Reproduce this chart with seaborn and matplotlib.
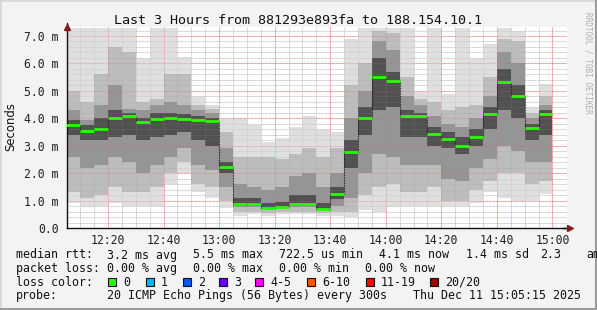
import numpy as np
import pandas as pd
import matplotlib
matplotlib.use("Agg")
import matplotlib.pyplot as plt
import seaborn as sns
from matplotlib.lines import Line2D
from matplotlib.patches import Rectangle

# ---------------- data (ms) ----------------
# column start, minutes after 12:00 (5-minute steps)
col_start = [5, 10, 15, 20, 25, 30, 35, 40, 45, 50, 55, 60, 65, 70, 75, 80, 85, 90,
             95, 100, 105, 110, 115, 120, 125, 130, 135, 140, 145, 150, 155, 160, 165, 170, 175]
ping_min = [0.9, 0.78, 0.8, 0.9, 0.8, 0.8, 0.75, 1.6, 2.0, 1.3, 1.1, 0.73, 0.45, 0.5, 0.45, 0.5, 0.5, 0.5,
            0.45, 0.45, 0.4, 0.65, 0.6, 0.75, 0.8, 0.8, 0.8, 0.75, 0.8, 0.9, 1.3, 1.1, 1.0, 0.95, 1.25]
ping_p10 = [1.3, 1.1, 1.2, 1.5, 1.3, 1.3, 1.5, 2.0, 2.4, 1.6, 1.5, 1.0, 0.6, 0.6, 0.55, 0.6, 0.6, 0.6,
            0.55, 0.6, 0.6, 1.2, 1.5, 1.6, 1.3, 1.3, 1.5, 1.0, 1.0, 1.4, 1.7, 2.0, 2.0, 1.6, 1.7]
ping_p25 = [2.6, 2.2, 2.3, 2.6, 2.4, 2.0, 2.3, 2.6, 2.9, 2.3, 2.1, 1.5, 0.75, 0.75, 0.65, 0.68, 0.75, 0.75,
            0.62, 0.8, 1.1, 2.0, 2.7, 2.6, 2.3, 2.3, 2.3, 1.8, 1.7, 2.2, 2.5, 3.0, 2.8, 2.4, 2.4]
ping_p40 = [3.4, 3.2, 3.2, 3.3, 3.4, 3.2, 3.3, 3.4, 3.5, 3.2, 3.0, 2.0, 0.82, 0.82, 0.7, 0.73, 0.82, 0.82,
            0.67, 1.05, 2.2, 3.4, 4.3, 4.4, 3.3, 3.3, 3.0, 2.9, 2.7, 3.0, 3.6, 4.3, 4.0, 3.2, 3.4]
median = [3.75, 3.54, 3.61, 4.01, 4.08, 3.86, 3.97, 4.01, 3.97, 3.94, 3.9, 2.22, 0.87, 0.87, 0.73, 0.77, 0.87, 0.87,
          0.7, 1.24, 2.77, 4.01, 5.5, 5.36, 4.08, 4.08, 3.43, 3.24, 2.99, 3.32, 4.16, 5.32, 4.81, 3.65, 4.16]
ping_p60 = [3.95, 3.75, 4.0, 4.3, 4.2, 4.0, 4.2, 4.2, 4.15, 4.1, 4.0, 2.4, 1.1, 1.1, 0.9, 0.95, 1.2, 1.2,
            0.9, 1.5, 3.2, 4.4, 6.2, 5.7, 4.3, 4.2, 3.7, 3.5, 3.3, 3.6, 4.4, 5.8, 5.2, 3.8, 4.3]
ping_p75 = [4.3, 3.95, 4.5, 5.2, 4.35, 4.3, 4.5, 4.6, 4.5, 4.3, 4.2, 2.9, 1.6, 1.5, 1.4, 1.5, 1.9, 2.0,
            1.5, 2.0, 4.0, 5.0, 6.8, 6.5, 4.8, 4.5, 4.1, 3.8, 3.7, 4.0, 4.8, 6.4, 6.0, 4.0, 4.5]
ping_p90 = [5.0, 4.6, 5.6, 6.6, 6.4, 4.6, 4.7, 5.6, 5.6, 4.5, 4.35, 3.5, 2.6, 2.6, 2.6, 2.5, 2.7, 2.9,
            2.6, 2.9, 5.2, 6.0, 7.2, 7.1, 5.5, 4.7, 4.6, 4.3, 4.4, 4.5, 5.5, 6.9, 6.8, 4.2, 4.8]
ping_max = [7.3, 7.3, 7.3, 7.3, 7.3, 6.2, 7.3, 7.3, 6.25, 4.8, 4.5, 4.0, 3.96, 3.75, 3.15, 3.27, 3.7, 4.1,
            3.6, 3.5, 6.9, 7.3, 7.3, 7.3, 7.3, 4.95, 7.3, 4.9, 7.3, 6.2, 6.7, 7.3, 7.2, 4.42, 5.25]

x_tick_pos = [20, 40, 60, 80, 100, 120, 140, 160, 180]
x_tick_labels = ["12:20", "12:40", "13:00", "13:20", "13:40", "14:00", "14:20", "14:40", "15:00"]
y_tick_pos = [0, 1, 2, 3, 4, 5, 6, 7]
y_tick_labels = ["0.0", "1.0 m", "2.0 m", "3.0 m", "4.0 m", "5.0 m", "6.0 m", "7.0 m"]

loss_labels = ["0", "1", "2", "3", "4-5", "6-10", "11-19", "20/20"]
loss_colors = ["#26ff00", "#00b8ff", "#0059ff", "#6a00ff", "#ff00ff", "#ff5500", "#ff0000", "#a10000"]

STEP = 5

df = pd.DataFrame({"start": col_start, "min": ping_min, "p10": ping_p10, "p25": ping_p25,
                   "p40": ping_p40, "median": median, "p60": ping_p60, "p75": ping_p75,
                   "p90": ping_p90, "max": ping_max})

# ---------------- figure ----------------
sns.set_style("white")
plt.rcParams["font.family"] = ["DejaVu Sans Mono", "DejaVu Sans"]
W, H = 597, 310
fig = plt.figure(figsize=(W / 100, H / 100), dpi=100, facecolor="#f3f3f3")
ax = fig.add_axes([67 / W, 1 - 228 / H, 500 / W, 201 / H])
ax.set_facecolor("white")

x0, x1 = 5.25, 185.25
ax.set_xlim(x0, x1)
ax.set_ylim(0, 201 / 27.43)

dot = (0, (0.72, 0.72))
minor_y = [v for v in np.arange(0.2, 7.4, 0.2) if abs(v - round(v)) > 1e-6]
minor_x = [v for v in np.arange(10, 185, 5) if v % 20 != 0]

# grid under smoke
for v in minor_y:
    ax.axhline(v, color="#c8c8c8", lw=0.7, ls=dot, zorder=0.5)
for v in minor_x:
    ax.axvline(v, color="#c8c8c8", lw=0.7, ls=dot, zorder=0.5)
for v in y_tick_pos[1:]:
    ax.axhline(v, color="#f08a8a", lw=0.7, ls=dot, zorder=0.5)
for v in x_tick_pos:
    ax.axvline(v, color="#f08a8a", lw=0.7, ls=dot, zorder=0.5)

# smoke bands (outer -> inner)
bands = [("min", "max", "#dddddd"), ("p10", "p90", "#bababa"),
         ("p25", "p75", "#929292"), ("p40", "p60", "#4c4c4c")]
for lo, hi, c in bands:
    ax.bar(df["start"], df[hi] - df[lo], bottom=df[lo], width=STEP, align="edge",
           color=c, linewidth=0, alpha=0.92, zorder=1)

# grid on top of smoke (faint)
for v in minor_y:
    ax.axhline(v, color="#9a9a9a", lw=0.5, ls=dot, alpha=0.35, zorder=1.5)
for v in minor_x:
    ax.axvline(v, color="#9a9a9a", lw=0.5, ls=dot, alpha=0.35, zorder=1.5)
for v in y_tick_pos[1:]:
    ax.axhline(v, color="#e06060", lw=0.6, ls=dot, alpha=0.5, zorder=1.5)
for v in x_tick_pos:
    ax.axvline(v, color="#e06060", lw=0.6, ls=dot, alpha=0.5, zorder=1.5)

# median step connectors
step_df = pd.DataFrame({"t": list(df["start"]) + [df["start"].iloc[-1] + STEP],
                        "m": list(df["median"]) + [df["median"].iloc[-1]]})
sns.lineplot(data=step_df, x="t", y="m", drawstyle="steps-post", color="#111111",
             lw=0.8, ls=dot, estimator=None, ax=ax, zorder=2)
ax.hlines(df["median"], df["start"], df["start"] + STEP, color=loss_colors[0], lw=2.0, zorder=3)

# axes cosmetics
for s in ["top", "right"]:
    ax.spines[s].set_visible(False)
for s in ["left", "bottom"]:
    ax.spines[s].set_color("#111111")
    ax.spines[s].set_linewidth(1.0)
ax.set_xticks(x_tick_pos)
ax.set_xticklabels(x_tick_labels)
ax.set_xticks(np.arange(10, 185, 5), minor=True)
ax.set_yticks(y_tick_pos)
ax.set_yticklabels(y_tick_labels)
ax.set_yticks(np.arange(0, 7.4, 0.2), minor=True)
ax.tick_params(axis="both", which="major", direction="out", length=3, width=0.8,
               colors="#111111", labelsize=8.3, labelcolor="#222222")
ax.tick_params(axis="both", which="minor", direction="out", length=2, width=0.6, colors="#111111")
ax.tick_params(axis="x", pad=1.0)
ax.tick_params(axis="y", pad=3)
ax.set_xlabel("")
ax.set_ylabel("")
ax.grid(False)

# arrows
ax.plot([0], [1.0], transform=ax.transAxes, marker="^", ms=5, color="#8b1a1a", clip_on=False, zorder=5)
ax.plot([0, 0], [1.0, 1.02], transform=ax.transAxes, color="#111111", lw=1, clip_on=False)
ax.plot([1.006], [0], transform=ax.transAxes, marker=">", ms=5, color="#8b1a1a", clip_on=False, zorder=5)
ax.plot([0.99, 1.006], [0, 0], transform=ax.transAxes, color="#111111", lw=1, clip_on=False)

# texts
def fx(px):
    return px / W

def fy(py):
    return 1 - py / H

fig.text(fx(298), fy(24), "Last 3 Hours from 881293e893fa to 188.154.10.1",
         ha="center", va="baseline", fontsize=9.6, color="#111111")
fig.text(fx(11), fy(127), "Seconds", rotation=90, ha="center", va="center",
         fontsize=8.4, family="DejaVu Sans", color="#111111")
fig.text(fx(588), fy(12), "RRDTOOL / TOBI OETIKER", rotation=270, ha="center", va="top",
         fontsize=5.6, color="#b0b0b0")

fs = 8.4
col = "#111111"
row1 = [(16, "median rtt:"), (107, "3.2 ms avg"), (193, "5.5 ms max"), (279, "722.5 us min"),
        (379, "4.1 ms now"), (466, "1.4 ms sd"), (540, "2.3"), (586, "am")]
row2 = [(16, "packet loss:"), (107, "0.00 % avg"), (193, "0.00 % max"), (279, "0.00 % min"),
        (365, "0.00 % now")]
row4 = [(16, "probe:"), (107, "20 ICMP Echo Pings (56 Bytes) every 300s"), (413, "Thu Dec 11 15:05:15 2025")]
for x, t in row1:
    fig.text(fx(x), fy(258.5), t, fontsize=fs, color=col, va="baseline")
for x, t in row2:
    fig.text(fx(x), fy(272), t, fontsize=fs, color=col, va="baseline")
fig.text(fx(16), fy(285.7), "loss color:", fontsize=fs, color=col, va="baseline")
for x, t in row4:
    fig.text(fx(x), fy(299.3), t, fontsize=fs, color=col, va="baseline")

sq_x = [108, 146, 183, 219, 255, 307, 366, 430]
for sx, lab, c in zip(sq_x, loss_labels, loss_colors):
    fig.add_artist(Rectangle((fx(sx), fy(286)), 8 / W, 8 / H, transform=fig.transFigure,
                             facecolor=c, edgecolor="#111111", lw=0.8))
    fig.text(fx(sx + 15), fy(285.7), lab, fontsize=fs, color=col, va="baseline")

# frame
fig.add_artist(Line2D([0, 1], [1 - 0.5 / H, 1 - 0.5 / H], transform=fig.transFigure, color="#d6d6d6", lw=1.2))
fig.add_artist(Line2D([0.5 / W, 0.5 / W], [0, 1], transform=fig.transFigure, color="#d6d6d6", lw=1.2))
fig.add_artist(Line2D([0, 1], [1.5 / H, 1.5 / H], transform=fig.transFigure, color="#9c9c9c", lw=2.2))
fig.add_artist(Line2D([1 - 1.5 / W, 1 - 1.5 / W], [0, 1], transform=fig.transFigure, color="#9c9c9c", lw=2.2))

fig.savefig("out.png", dpi=100, facecolor=fig.get_facecolor())
